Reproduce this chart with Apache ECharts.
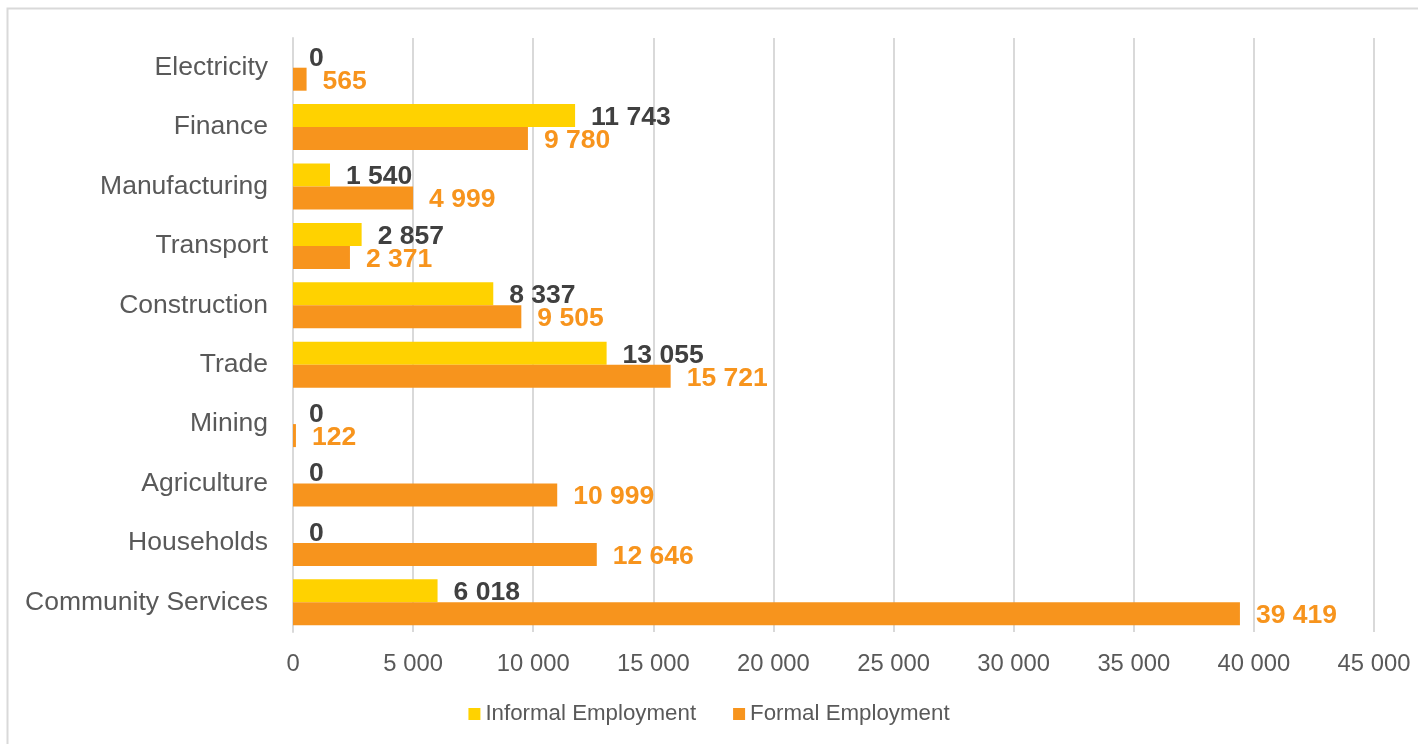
<!DOCTYPE html>
<html>
<head>
<meta charset="utf-8">
<title>Informal and Formal Employment by Sector</title>
<script src="https://cdn.jsdelivr.net/npm/echarts@6/dist/echarts.min.js"></script>
<style>
  html, body { margin: 0; padding: 0; background: #ffffff; overflow: hidden; }
  #chart { width: 1418px; height: 744px; }
</style>
</head>
<body>
<div id="chart"></div>
<script>
// Sectors, listed top to bottom
const sectors = ['Electricity', 'Finance', 'Manufacturing', 'Transport', 'Construction',
                 'Trade', 'Mining', 'Agriculture', 'Households', 'Community Services'];
const informal = [0, 11743, 1540, 2857, 8337, 13055, 0, 0, 0, 6018];
const formal = [565, 9780, 4999, 2371, 9505, 15721, 122, 10999, 12646, 39419];
const seriesNames = ['Informal Employment', 'Formal Employment'];

// Thousands separated by a space: 12646 -> "12 646"
function fmt(v) {
  return String(Math.round(v)).replace(/\B(?=(\d{3})+(?!\d))/g, ' ');
}

const FONT = 'Liberation Sans, Arial, sans-serif';
const YELLOW = '#FFD200';
const ORANGE = '#F7941D';

const chart = echarts.init(document.getElementById('chart'), null, { renderer: 'canvas' });

chart.setOption({
  backgroundColor: '#ffffff',
  animation: false,
  textStyle: { fontFamily: FONT },
  graphic: [{
    type: 'rect',
    shape: { x: 7.5, y: 8.5, width: 1500, height: 800 },
    style: { fill: 'none', stroke: '#D9D9D9', lineWidth: 2 },
    silent: true
  }],
  grid: { left: 293, right: 44, top: 38, bottom: 112, containLabel: false },
  legend: {
    data: seriesNames,
    bottom: 14,
    left: 'center',
    icon: 'rect',
    itemWidth: 12,
    itemHeight: 12,
    itemGap: 37,
    textStyle: { fontFamily: FONT, fontSize: 22.3, color: '#595959', padding: [0, 0, 0, 0] }
  },
  xAxis: {
    type: 'value',
    min: 0,
    max: 45000,
    interval: 5000,
    axisLine: { show: false },
    axisTick: { show: false },
    splitLine: { show: true, lineStyle: { color: '#D9D9D9', width: 2 } },
    axisLabel: {
      formatter: fmt,
      fontFamily: FONT,
      fontSize: 23.8,
      color: '#595959',
      margin: 20
    }
  },
  yAxis: {
    type: 'category',
    data: sectors,
    inverse: true,
    axisLine: { show: true, lineStyle: { color: '#D9D9D9', width: 2 } },
    axisTick: { show: false },
    axisLabel: {
      fontFamily: FONT,
      fontSize: 26.5,
      color: '#595959',
      margin: 25
    }
  },
  series: [
    {
      name: seriesNames[0],
      type: 'bar',
      data: informal,
      barWidth: 23,
      barGap: '0%',
      itemStyle: { color: YELLOW },
      label: {
        show: true,
        position: 'right',
        distance: 16,
        offset: [0, 2],
        formatter: p => fmt(p.value),
        fontFamily: FONT,
        fontSize: 26.5,
        fontWeight: 'bold',
        color: '#404040'
      }
    },
    {
      name: seriesNames[1],
      type: 'bar',
      data: formal,
      barWidth: 23,
      barGap: '0%',
      itemStyle: { color: ORANGE },
      label: {
        show: true,
        position: 'right',
        distance: 16,
        offset: [0, 2],
        formatter: p => fmt(p.value),
        fontFamily: FONT,
        fontSize: 26.5,
        fontWeight: 'bold',
        color: ORANGE
      }
    }
  ]
});
</script>
</body>
</html>
